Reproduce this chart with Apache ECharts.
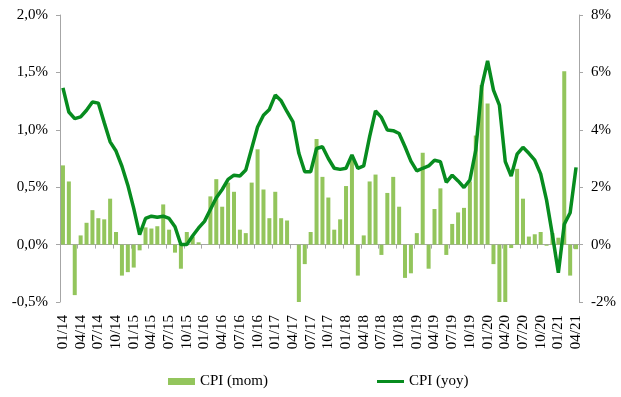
<!DOCTYPE html>
<html>
<head>
<meta charset="utf-8">
<script src="https://cdn.jsdelivr.net/npm/echarts@6/dist/echarts.min.js"></script>
<style>
  html, body { margin: 0; padding: 0; background: #fff; }
  #chart { width: 621px; height: 397px; }
</style>
</head>
<body>
<div id="chart"></div>
<script>
// monthly categories 01/14 .. 04/21
const months = [];
for (let y = 14; y <= 21; y++) {
  for (let m = 1; m <= 12; m++) {
    if (y === 21 && m > 4) break;
    months.push(String(m).padStart(2, '0') + '/' + y);
  }
}

// CPI month on month, % (left axis)
const cpiMom = [
  0.69, 0.55, -0.44, 0.08, 0.19, 0.30, 0.23, 0.22, 0.40, 0.11,
  -0.27, -0.24, -0.20, -0.05, 0.15, 0.14, 0.16, 0.35, 0.13, -0.07,
  -0.21, 0.11, 0.07, 0.02, 0.00, 0.42, 0.57, 0.33, 0.54, 0.46,
  0.13, 0.10, 0.54, 0.83, 0.48, 0.23, 0.46, 0.23, 0.21, 0.00,
  -0.50, -0.17, 0.11, 0.92, 0.59, 0.41, 0.13, 0.22, 0.51, 0.74,
  -0.27, 0.08, 0.55, 0.61, -0.09, 0.45, 0.59, 0.33, -0.29, -0.25,
  0.10, 0.80, -0.21, 0.31, 0.49, -0.09, 0.18, 0.28, 0.32, 0.55,
  0.95, 1.39, 1.23, -0.17, -0.50, -0.50, -0.03, 0.66, 0.40, 0.07,
  0.09, 0.11, -0.01, 0.10, 0.06, 1.51, -0.27, -0.04
];

// CPI year on year, % (right axis)
const cpiYoy = [
  5.46, 4.62, 4.39, 4.45, 4.68, 4.97, 4.93, 4.25, 3.58, 3.26,
  2.73, 2.07, 1.26, 0.35, 0.91, 0.99, 0.95, 0.99, 0.91, 0.62,
  0.00, 0.00, 0.31, 0.58, 0.81, 1.22, 1.63, 1.92, 2.27, 2.42,
  2.39, 2.60, 3.35, 4.10, 4.51, 4.71, 5.21, 5.01, 4.63, 4.28,
  3.18, 2.54, 2.54, 3.35, 3.41, 3.00, 2.66, 2.62, 2.66, 3.12,
  2.66, 2.74, 3.76, 4.66, 4.43, 3.99, 3.97, 3.87, 3.41, 2.91,
  2.57, 2.66, 2.74, 2.94, 2.89, 2.17, 2.42, 2.22, 1.99, 2.25,
  3.29, 5.50, 6.40, 5.38, 4.86, 2.89, 2.39, 3.15, 3.39, 3.18,
  2.94, 2.46, 1.55, 0.33, -0.98, 0.71, 1.11, 2.69
];

const leftTicks = { min: -0.5, max: 2.0, step: 0.5 };
const rightTicks = { min: -2, max: 8, step: 2 };

const font = 'Liberation Serif';
const axisGrey = '#a6a6a6';
const barGreen = '#93c55c';
const lineGreen = '#078c1f';
const textStyle = { color: '#000', fontFamily: font, fontSize: 15 };

const chart = echarts.init(document.getElementById('chart'), null, { renderer: 'canvas' });

chart.setOption({
  animation: false,
  textStyle: { fontFamily: font },
  grid: { left: 60, right: 42, top: 15, bottom: 95 },
  legend: [
    {
      left: 163,
      top: 369,
      itemWidth: 27,
      itemHeight: 7,
      textStyle: textStyle,
      data: [{ name: 'CPI (mom)', icon: 'rect' }]
    },
    {
      left: 372,
      top: 369,
      itemWidth: 27,
      itemHeight: 3,
      textStyle: textStyle,
      data: [{ name: 'CPI (yoy)', icon: 'rect', itemStyle: { color: lineGreen } }]
    }
  ],
  xAxis: [
    {
      // labels along the bottom
      type: 'category',
      data: months,
      position: 'bottom',
      axisLine: { show: false, onZero: false },
      axisTick: { show: false },
      axisLabel: { ...textStyle, rotate: 90, interval: 2, margin: 13 }
    },
    {
      // zero line with ticks every quarter
      type: 'category',
      data: months,
      position: 'bottom',
      axisLine: { show: true, onZero: true, onZeroAxisIndex: 0, lineStyle: { color: axisGrey, width: 1 } },
      axisTick: { show: true, interval: 2, length: 4, lineStyle: { color: axisGrey } },
      axisLabel: { show: false }
    }
  ],
  yAxis: [
    {
      type: 'value',
      min: leftTicks.min,
      max: leftTicks.max,
      interval: leftTicks.step,
      axisLine: { show: true, lineStyle: { color: axisGrey } },
      axisTick: { show: true, length: 4, lineStyle: { color: axisGrey } },
      splitLine: { show: false },
      axisLabel: {
        ...textStyle,
        margin: 12,
        formatter: (v) => v.toFixed(1).replace('.', ',') + '%'
      }
    },
    {
      type: 'value',
      position: 'right',
      min: rightTicks.min,
      max: rightTicks.max,
      interval: rightTicks.step,
      axisLine: { show: true, lineStyle: { color: axisGrey } },
      axisTick: { show: true, length: 4, lineStyle: { color: axisGrey } },
      splitLine: { show: false },
      axisLabel: { ...textStyle, margin: 12, formatter: (v) => v + '%' }
    }
  ],
  series: [
    {
      name: 'CPI (mom)',
      type: 'bar',
      xAxisIndex: 0,
      yAxisIndex: 0,
      data: cpiMom,
      barCategoryGap: '32%',
      itemStyle: { color: barGreen }
    },
    {
      name: 'CPI (yoy)',
      type: 'line',
      xAxisIndex: 0,
      yAxisIndex: 1,
      data: cpiYoy,
      symbol: 'none',
      lineStyle: { color: lineGreen, width: 3.5 },
      itemStyle: { color: lineGreen }
    }
  ]
});
</script>
</body>
</html>
